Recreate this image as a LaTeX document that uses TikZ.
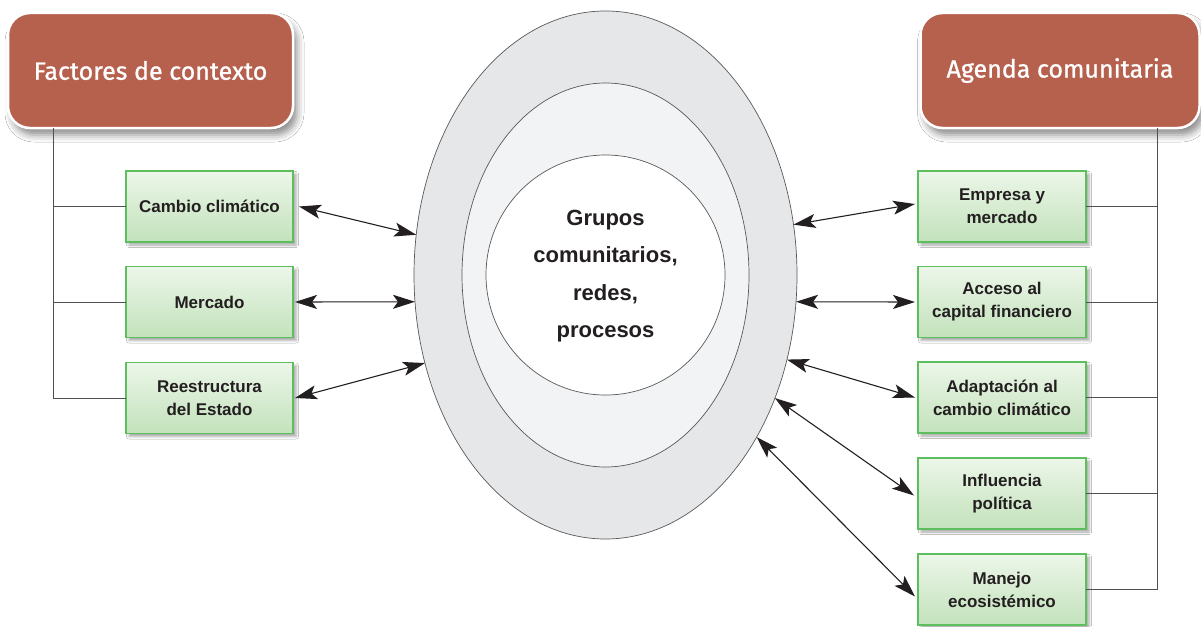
\documentclass[tikz,border=0pt]{standalone}
\usepackage{fontspec}
\setmainfont{Liberation Sans}
\newfontfamily\titlefont{Fira Sans}[FakeBold=0.9]
\usetikzlibrary{arrows.meta,shapes.geometric,shadows.blur}

\definecolor{titlered}{RGB}{182,97,78}
\definecolor{boxtop}{RGB}{236,246,233}
\definecolor{boxbot}{RGB}{195,226,187}
\definecolor{boxedge}{RGB}{92,190,92}
\definecolor{ringout}{RGB}{230,231,233}
\definecolor{ringmid}{RGB}{242,243,245}
\definecolor{linkgray}{RGB}{80,80,80}
\definecolor{inkdark}{RGB}{35,31,32}

\begin{document}
\begin{tikzpicture}[x=1pt,y=-1pt,
  titlebox/.style={draw=white, line width=2.5pt, fill=titlered, rounded corners=22pt,
    minimum height=115pt, inner sep=0pt, outer sep=0pt, text=white,
    font=\titlefont\fontsize{25}{30}\selectfont,
    blur shadow={shadow xshift=4pt, shadow yshift=-7pt, shadow blur radius=7pt, shadow opacity=45}},
  factor/.style={draw=boxedge, line width=1.3pt, top color=boxtop, bottom color=boxbot,
    minimum height=71pt, inner sep=0pt, outer sep=0pt, align=center,
    font=\bfseries\fontsize{17}{23}\selectfont, text=inkdark,
    blur shadow={shadow xshift=3pt, shadow yshift=-3pt, shadow blur radius=2.5pt, shadow opacity=35}},
  ring/.style={ellipse, draw=black!65, line width=0.7pt, inner sep=0pt, outer sep=0pt},
  link/.style={draw=linkgray, line width=1pt},
  tip/.style={Stealth[length=22pt,width=14pt,inset=5pt]},
  dbl/.style={{Stealth[length=22pt,width=14pt,inset=5pt]}-{Stealth[length=22pt,width=14pt,inset=5pt]},
    line width=1.1pt, inkdark},
]
\fill[white] (0,0) rectangle (1201,626);
\useasboundingbox (0,0) rectangle (1201,626);

% concentric rings
\node[ring, fill=ringout, minimum width=383pt, minimum height=528pt] (outer) at (605.5,275) {};
\node[ring, fill=ringmid, minimum width=287pt, minimum height=384pt] (mid) at (605.5,275) {};
\node[ring, fill=white, minimum width=239pt, minimum height=240pt] (core) at (605.5,275) {};
\node[font=\bfseries\fontsize{22}{37.5}\selectfont, align=center, text=inkdark] (lbl) at (605.5,276)
  {Grupos\\comunitarios,\\redes,\\procesos};

% headers
\node[titlebox, minimum width=285pt] (ctx) at (150.5,70.5) {Factores de contexto};
\node[titlebox, minimum width=279pt] (agd) at (1060,70.5) {Agenda comunitaria};

% context factors
\node[factor, minimum width=167pt] (cc) at (209.5,206.5) {Cambio climático};
\node[factor, minimum width=167pt] (mk) at (209.5,302) {Mercado};
\node[factor, minimum width=167pt] (re) at (209.5,398) {Reestructura\\del Estado};

% community agenda
\node[factor, minimum width=168pt] (emp) at (1002,206.5) {Empresa y\\mercado};
\node[factor, minimum width=168pt] (acc) at (1002,302) {Acceso al\\capital financiero};
\node[factor, minimum width=168pt] (ada) at (1002,397.5) {Adaptación al\\cambio climático};
\node[factor, minimum width=168pt] (inf) at (1002,493.5) {Influencia\\política};
\node[factor, minimum width=168pt] (man) at (1002,589.5) {Manejo\\ecosistémico};

% bracket lines
\coordinate (lspine) at (53,128);
\draw[link] (lspine) |- (re.west);
\draw[link] (lspine |- cc.west) -- (cc.west);
\draw[link] (lspine |- mk.west) -- (mk.west);

\coordinate (rspine) at (1157,128);
\draw[link] (rspine) |- (man.east);
\draw[link] (emp.east) -- (emp.east -| rspine);
\draw[link] (acc.east) -- (acc.east -| rspine);
\draw[link] (ada.east) -- (ada.east -| rspine);
\draw[link] (inf.east) -- (inf.east -| rspine);

% two-way links
\draw[dbl] ([xshift=6pt]cc.east) -- (outer.168);
\draw[dbl] ([xshift=2pt]mk.east) -- (outer.188);
\draw[dbl] ([xshift=2pt]re.east) -- (outer.206);

\draw[dbl] (outer.15) -- ([xshift=-3pt,yshift=2.5pt]emp.west);
\draw[dbl] (outer.352) -- ([xshift=-3pt]acc.west);
\draw[dbl] (outer.335) -- ([xshift=-3pt]ada.west);
\draw[dbl] (outer.324) -- ([xshift=-4pt,yshift=-2pt]inf.west);
\draw[dbl] (outer.313) -- ([xshift=-3pt,yshift=-7pt]man.west);
\end{tikzpicture}
\end{document}
